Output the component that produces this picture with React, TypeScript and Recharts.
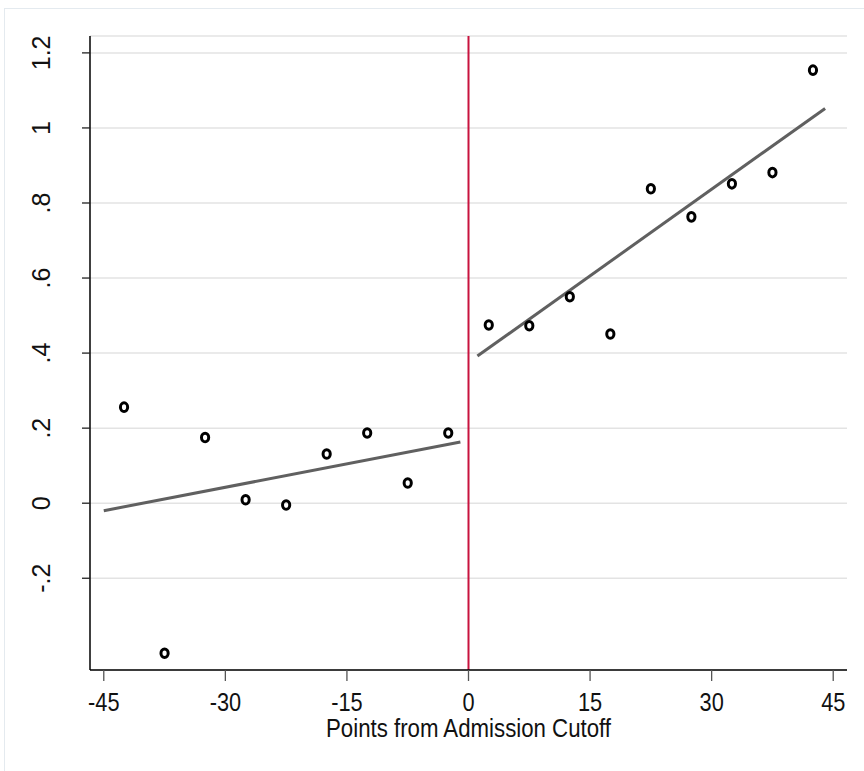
import React from "react"
import { ComposedChart, XAxis, YAxis, CartesianGrid, Scatter, Line, ReferenceLine } from "recharts"

// binned means, points from the cutoff
const binX = [-42.5, -37.5, -32.5, -27.5, -22.5, -17.5, -12.5, -7.5, -2.5, 2.5, 7.5, 12.5, 17.5, 22.5, 27.5, 32.5, 37.5, 42.5]
const binY = [0.256, -0.4, 0.175, 0.009, -0.005, 0.131, 0.187, 0.054, 0.187, 0.475, 0.473, 0.55, 0.451, 0.838, 0.763, 0.851, 0.881, 1.154]

// linear fit endpoints on each side
const leftFitX = [-45, -1]
const leftFitY = [-0.02, 0.163]
const rightFitX = [1.1, 44]
const rightFitY = [0.392, 1.052]

const xTicks = [-45, -30, -15, 0, 15, 30, 45]
const yTicks = [-0.2, 0, 0.2, 0.4, 0.6, 0.8, 1, 1.2]

const points = binX.map((x, i) => ({ x, y: binY[i] }))
const leftFit = leftFitX.map((x, i) => ({ x, fit: leftFitY[i] }))
const rightFit = rightFitX.map((x, i) => ({ x, fit: rightFitY[i] }))

const FONT = "'Liberation Sans', Arial, sans-serif"

function fmtY(v: number) {
  const r = Math.round(v * 10) / 10
  if (r === 0) return "0"
  let s = String(r)
  s = s.replace("0.", ".")
  return s
}

function XTick(props: any) {
  const { x, payload } = props
  // baseline sits a fixed distance under the axis line
  return (
    <g transform={`translate(${x},711) scale(0.87,1)`}>
      <text x={0} y={0} textAnchor="middle" fontFamily={FONT} fontSize={25} fill="#111">
        {payload.value}
      </text>
    </g>
  )
}

function YTick(props: any) {
  const { y, payload } = props
  const bx = 50
  return (
    <text
      x={bx}
      y={y}
      transform={`rotate(-90, ${bx}, ${y})`}
      textAnchor="middle"
      fontFamily={FONT}
      fontSize={25}
      fill="#111"
    >
      {fmtY(payload.value)}
    </text>
  )
}

function HollowDot(props: any) {
  const { cx, cy } = props
  if (cx == null || cy == null) return null
  return <ellipse cx={cx} cy={cy} rx={3.6} ry={4.3} fill="none" stroke="#000" strokeWidth={3} />
}

export default function App() {
  return (
    <div style={{ position: "absolute", left: 0, top: 0, width: 864, height: 771, background: "#fff", overflow: "hidden" }}>
      <div
        style={{
          position: "absolute",
          left: 4,
          top: 8,
          width: 900,
          height: 800,
          borderLeft: "1.5px solid #e4eaef",
          borderTop: "1.5px solid #e4eaef",
        }}
      />
      <ComposedChart
        width={864}
        height={771}
        margin={{ top: 36, right: 17, bottom: 41, left: 0 }}
        style={{ position: "absolute", left: 0, top: 0 }}
      >
        <CartesianGrid horizontal={true} vertical={false} stroke="#e3e3e3" strokeWidth={1.5} />
        <XAxis
          dataKey="x"
          type="number"
          domain={[-46.7, 46.7]}
          ticks={xTicks}
          allowDataOverflow
          height={60}
          tickSize={11}
          tickLine={{ stroke: "#555", strokeWidth: 1.3 }}
          axisLine={{ stroke: "#000", strokeWidth: 1.5 }}
          tick={<XTick />}
          interval={0}
        />
        <YAxis
          type="number"
          domain={[-0.4445, 1.245]}
          ticks={yTicks}
          allowDataOverflow
          width={90}
          tickSize={8}
          tickLine={{ stroke: "#222", strokeWidth: 1.3 }}
          axisLine={{ stroke: "#000", strokeWidth: 1.5 }}
          tick={<YTick />}
          interval={0}
        />
        <ReferenceLine x={0} stroke="#c8133e" strokeWidth={2} ifOverflow="extendDomain" />
        <Line data={leftFit} dataKey="fit" stroke="#606060" strokeWidth={3} dot={false} isAnimationActive={false} />
        <Line data={rightFit} dataKey="fit" stroke="#606060" strokeWidth={3} dot={false} isAnimationActive={false} />
        <Scatter data={points} dataKey="y" shape={<HollowDot />} isAnimationActive={false} />
        <text
          x={468.5}
          y={737}
          textAnchor="middle"
          fontFamily={FONT}
          fontSize={25}
          fill="#111"
          textLength={285}
          lengthAdjust="spacingAndGlyphs"
        >
          Points from Admission Cutoff
        </text>
      </ComposedChart>
    </div>
  )
}
